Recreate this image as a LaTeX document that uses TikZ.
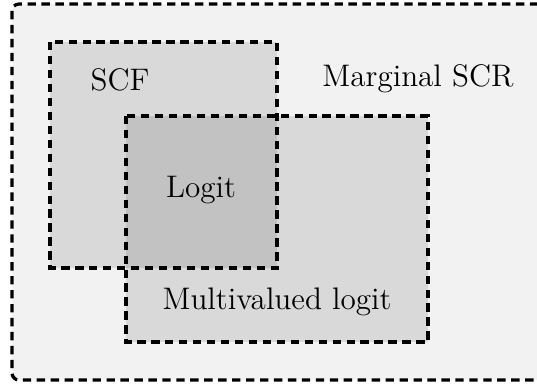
\documentclass[tikz,border=0pt]{standalone}
\usepackage{tikz}

\tikzset{
    setline/.style={line width=1.4pt, dash pattern=on 3.6pt off 2.4pt},
    setbox/.style={setline, fill=black, fill opacity=0.1, draw opacity=1},
    setlabel/.style={font=\fontsize{13.4pt}{16pt}\selectfont, text opacity=1}
}

\begin{document}
\begin{tikzpicture}[x=0.43pt, y=-0.43pt]
    % Frame
    \useasboundingbox (0,0) rectangle (537,387);
    \clip (0,0) rectangle (537,387);

    % Marginal SCR
    \draw[setline, fill=gray!10, rounded corners=3] (12,4) rectangle (570,380);

    % SCF and multivalued logit
    \draw[setbox] (50,42) rectangle (277,268);
    \draw[setbox] (126,116) rectangle (428,342);

    % Labels
    \node[setlabel] (scf) at (120,80) {SCF};
    \node[setlabel] (scr) at (418,79) {Marginal SCR};
    \node[setlabel] (logit) at (201,190) {Logit};
    \node[setlabel] (mvlogit) at (277,302) {Multivalued logit};
\end{tikzpicture}
\end{document}
